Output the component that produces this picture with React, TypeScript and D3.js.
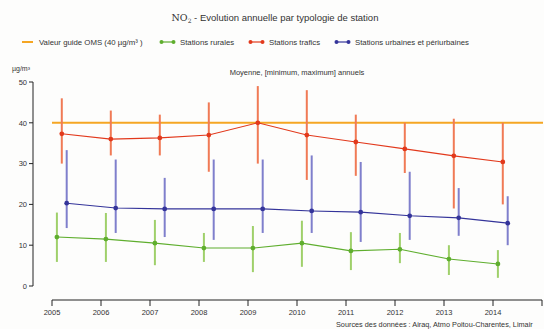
import { useMemo } from "react";
import * as d3 from "d3";

const years = [2005, 2006, 2007, 2008, 2009, 2010, 2011, 2012, 2013, 2014];

const traficMean = [37.3, 36.0, 36.3, 37.0, 40.0, 37.0, 35.3, 33.6, 31.9, 30.4];
const traficMin = [30, 32, 32, 28, 30, 26, 27, 27.7, 19, 20];
const traficMax = [46, 43, 42, 45, 49, 48, 42, 40, 41, 40];

const urbainMean = [20.3, 19.1, 18.9, 18.9, 18.9, 18.4, 18.1, 17.2, 16.7, 15.4];
const urbainMin = [14.2, 13, 12, 11.3, 13, 13, 10.8, 11.3, 12.3, 10];
const urbainMax = [33.3, 31, 26.5, 31, 31, 32, 30.4, 28, 24, 22];

const ruralMean = [12, 11.5, 10.5, 9.3, 9.3, 10.5, 8.6, 9, 6.6, 5.4];
const ruralMin = [5.9, 5.9, 5.1, 5.9, 3.4, 4.7, 3.9, 5.6, 2.7, 2];
const ruralMax = [18, 17.9, 16.2, 13, 14.7, 16, 13.2, 13, 10, 8.8];

const yTicks = [0, 10, 20, 30, 40, 50];
const xTicks = [2005, 2006, 2007, 2008, 2009, 2010, 2011, 2012, 2013, 2014, 2015];
const omsValue = 40;

const series = [
  { name: "rural", label: "Stations rurales", mean: ruralMean, min: ruralMin, max: ruralMax, offset: 0.1, line: "#5fae2e", bar: "#9fd06a", lx: 160 },
  { name: "trafic", label: "Stations trafics", mean: traficMean, min: traficMin, max: traficMax, offset: 0.2, line: "#e2391c", bar: "#f07a55", lx: 249 },
  { name: "urbain", label: "Stations urbaines et périurbaines", mean: urbainMean, min: urbainMin, max: urbainMax, offset: 0.3, line: "#34349a", bar: "#7f7fcc", lx: 335 },
];

const font = "'Liberation Sans', Arial, sans-serif";

export default function App() {
  const x = useMemo(() => d3.scaleLinear().domain([2005, 2015]).range([52, 542]), []);
  const y = useMemo(() => d3.scaleLinear().domain([0, 50]).range([286, 82]), []);
  const axisY = 33;
  const xAxisY = 300;
  const legY = 42;

  return (
    <svg
      width={544}
      height={329}
      style={{ position: "absolute", left: 0, top: 0, background: "#fdfdfc" }}
      fontFamily={font}
    >
      {/* Title */}
      <text x={275} y={21} textAnchor="middle" fontSize={9.5} fill="#333">
        <tspan fontFamily="'DejaVu Serif', serif">NO</tspan>
        <tspan fontFamily="'DejaVu Serif', serif" fontSize={6} dy={2}>2</tspan>
        <tspan dy={-2}> - Evolution annuelle par typologie de station</tspan>
      </text>

      {/* Legend */}
      <g fontSize={7.8} fill="#333">
        <line x1={22} x2={33} y1={legY} y2={legY} stroke="#f5a623" strokeWidth={2} />
        <text x={39} y={legY + 2.8}>Valeur guide OMS (40 µg/m³ )</text>
        {series.map((s) => (
          <g key={s.name}>
            <line x1={s.lx} x2={s.lx + 15} y1={legY} y2={legY} stroke={s.line} strokeWidth={1.2} />
            <circle cx={s.lx + 1.5} cy={legY} r={2} fill={s.line} />
            <circle cx={s.lx + 13.5} cy={legY} r={2} fill={s.line} />
            <text x={s.lx + 20} y={legY + 2.8}>{s.label}</text>
          </g>
        ))}
      </g>

      {/* Subtitle */}
      <text x={297} y={75} textAnchor="middle" fontSize={7.5} fill="#333">
        Moyenne, [minimum, maximum] annuels
      </text>

      {/* Unit */}
      <text x={12} y={71} fontSize={7} fill="#333">µg/m³</text>

      {/* Y axis */}
      <line x1={axisY} x2={axisY} y1={y(50)} y2={y(0)} stroke="#222" strokeWidth={1} />
      {yTicks.map((t) => (
        <g key={t}>
          <line x1={axisY - 4} x2={axisY} y1={y(t)} y2={y(t)} stroke="#222" />
          <text x={axisY - 6} y={y(t) + 2.8} textAnchor="end" fontSize={7.5} fill="#333">
            {t}
          </text>
        </g>
      ))}

      {/* X axis */}
      <line x1={x(2005)} x2={x(2015)} y1={xAxisY} y2={xAxisY} stroke="#222" />
      {xTicks.map((t) => (
        <g key={t}>
          <line x1={x(t)} x2={x(t)} y1={xAxisY} y2={xAxisY + 6} stroke="#222" />
          {t < 2015 && (
            <text x={x(t)} y={xAxisY + 15} textAnchor="middle" fontSize={7.5} fill="#333">
              {t}
            </text>
          )}
        </g>
      ))}

      {/* OMS guideline */}
      <line x1={x(2005)} x2={x(2015) + 1} y1={y(omsValue)} y2={y(omsValue)} stroke="#f5a623" strokeWidth={2} />

      {/* Series */}
      {series.map((s) => {
        const pts = years.map((yr, i) => [x(yr + s.offset), y(s.mean[i])] as [number, number]);
        const line = d3.line();
        return (
          <g key={s.name}>
            {years.map((yr, i) => (
              <line
                key={yr}
                x1={x(yr + s.offset)}
                x2={x(yr + s.offset)}
                y1={y(s.min[i])}
                y2={y(s.max[i])}
                stroke={s.bar}
                strokeWidth={2}
              />
            ))}
            <path d={line(pts) ?? ""} fill="none" stroke={s.line} strokeWidth={1.1} />
            {pts.map((p, i) => (
              <circle key={i} cx={p[0]} cy={p[1]} r={2.4} fill={s.line} />
            ))}
          </g>
        );
      })}

      {/* Source */}
      <text x={336} y={327} fontSize={7.3} fill="#333">
        Sources des données : Airaq, Atmo Poitou-Charentes, Limair
      </text>
    </svg>
  );
}
